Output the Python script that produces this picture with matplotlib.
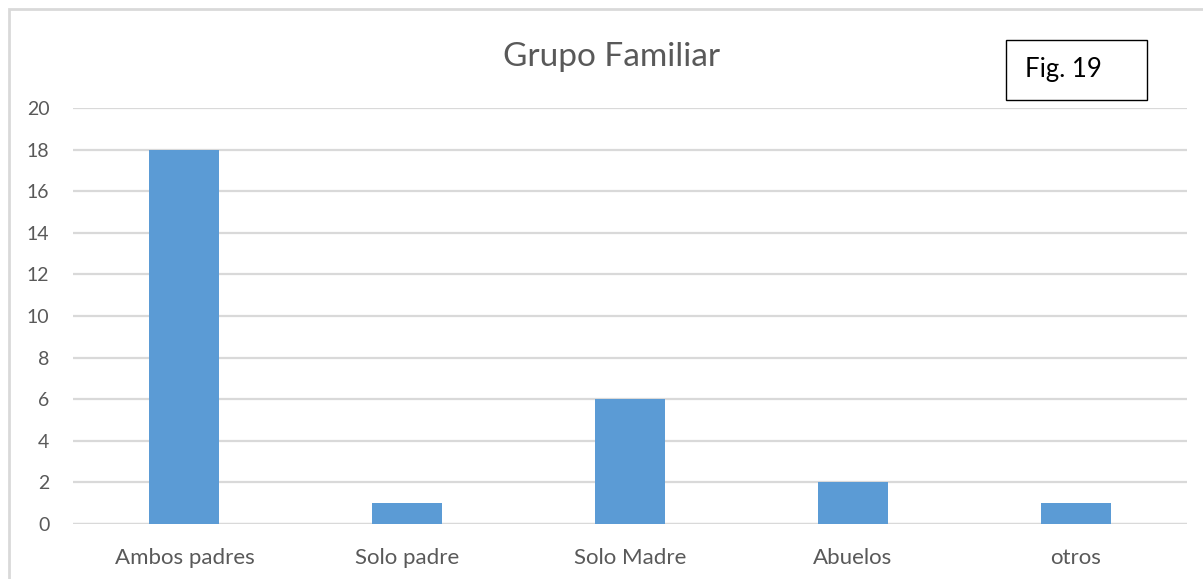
import matplotlib.pyplot as plt
from matplotlib.patches import Rectangle

categories = ["Ambos padres", "Solo padre", "Solo Madre", "Abuelos", "otros"]
values = [18, 1, 6, 2, 1]
yticks = [0, 2, 4, 6, 8, 10, 12, 14, 16, 18, 20]

plt.rcParams["font.family"] = ["Lato", "DejaVu Sans"]

fig = plt.figure(figsize=(12.03, 5.79), dpi=100)
ax = fig.add_axes([73 / 1203, 1 - 524 / 579, 1114 / 1203, 416 / 579])

ax.bar(range(len(categories)), values, width=0.315, color="#5b9bd5", zorder=3)
ax.set_xlim(-0.5, len(categories) - 0.5)
ax.set_ylim(0, 20)
ax.set_yticks(yticks)
ax.set_xticks(range(len(categories)))
ax.set_xticklabels(categories)
ax.grid(axis="y", color="#d9d9d9", linewidth=1.6, zorder=0)
ax.tick_params(length=0, colors="#595959")
ax.tick_params(axis="x", labelsize=16, pad=17)
ax.tick_params(axis="y", labelsize=14, pad=17)
for s in ax.spines.values():
    s.set_visible(False)
ax.axhline(0, color="#d9d9d9", linewidth=1.6, zorder=1)

fig.text(612 / 1203, 1 - 57 / 579, "Grupo Familiar", ha="center", va="center",
         fontsize=24, color="#595959")

# outer chart frame
fig.patches.append(Rectangle((9 / 1203, -0.1), 1.2, 1 - 9 / 579 + 0.1,
                             transform=fig.transFigure, fill=False,
                             edgecolor="#d9d9d9", linewidth=2))

# Fig. 19 box
fig.patches.append(Rectangle((1006 / 1203, 1 - 100 / 579), 141 / 1203, 60 / 579,
                             transform=fig.transFigure, fill=False,
                             edgecolor="black", linewidth=1))
fig.text(1025 / 1203, 1 - 69 / 579, "Fig. 19", ha="left", va="center",
         fontsize=18.5, color="black")

fig.savefig("out.png", dpi=100)
